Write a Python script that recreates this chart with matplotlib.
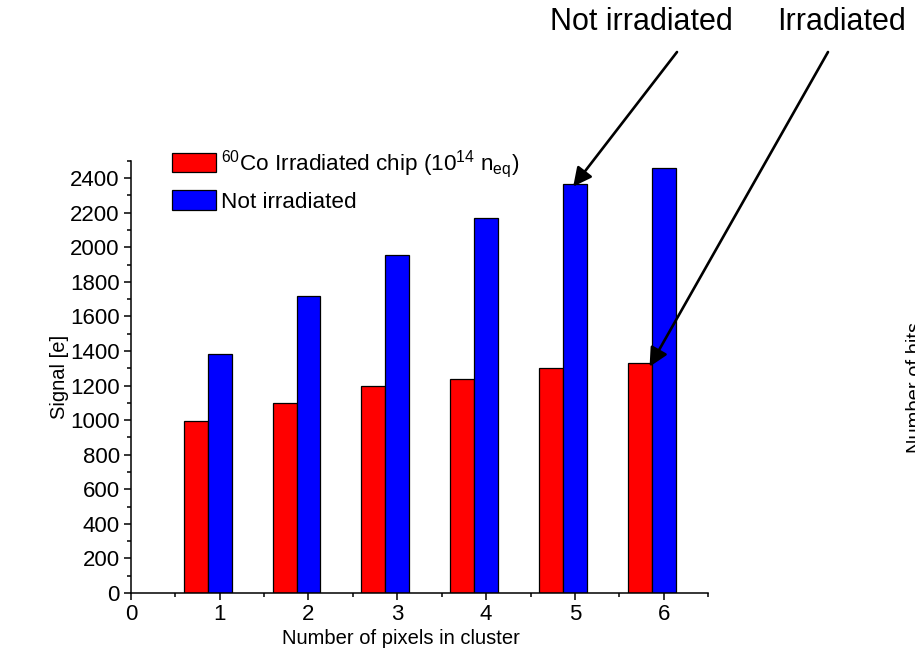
import matplotlib
matplotlib.use("Agg")
import matplotlib.pyplot as plt
from matplotlib.ticker import MultipleLocator
import numpy as np

# data
cluster_size = [1, 2, 3, 4, 5, 6]
signal_irradiated = [995, 1100, 1195, 1240, 1300, 1330]
signal_not_irradiated = [1385, 1720, 1955, 2170, 2365, 2460]

label_irr = r"$\mathregular{^{60}}$Co Irradiated chip (10$\mathregular{^{14}}$ n$\mathregular{_{eq}}$)"
label_not = "Not irradiated"

plt.rcParams["font.family"] = ["Liberation Sans", "DejaVu Sans"]
plt.rcParams["mathtext.fontset"] = "custom"
plt.rcParams["mathtext.rm"] = "Liberation Sans"

fig = plt.figure(figsize=(9.15, 6.7), dpi=100)
ax = fig.add_axes([0.143, 0.115, 0.631, 0.645])

x = np.array(cluster_size)
w = 0.27
ax.bar(x - w, signal_irradiated, width=w, align="center", color="#ff0000",
       edgecolor="black", linewidth=0.9, label=label_irr)
ax.bar(x, signal_not_irradiated, width=w, align="center", color="#0000ff",
       edgecolor="black", linewidth=0.9, label=label_not)

ax.set_xlim(0, 6.5)
ax.set_ylim(0, 2500)
ax.xaxis.set_major_locator(MultipleLocator(1))
ax.xaxis.set_minor_locator(MultipleLocator(0.5))
ax.yaxis.set_major_locator(MultipleLocator(200))
ax.yaxis.set_minor_locator(MultipleLocator(100))
ax.tick_params(which="major", direction="out", length=5, width=1.1,
               labelsize=16, pad=3)
ax.tick_params(which="minor", direction="out", length=3, width=1.1)

for side in ["top", "right"]:
    ax.spines[side].set_visible(False)
for side in ["left", "bottom"]:
    ax.spines[side].set_linewidth(1.1)

ax.set_xlabel("Number of pixels in cluster", fontsize=14.5)
ax.xaxis.set_label_coords(0.468, -0.083)
ax.set_ylabel("Signal [e]", fontsize=14.5, labelpad=1)

ax.legend(loc="upper left", bbox_to_anchor=(0.056, 1.05), frameon=False,
          fontsize=16.2, handlelength=1.95, handleheight=0.95,
          handletextpad=0.2, labelspacing=0.45, borderaxespad=0)

# arrows pointing at the last bars
arrow = dict(arrowstyle="-|>", color="black", lw=1.9, mutation_scale=28,
             shrinkA=0, shrinkB=0)
ax.annotate("", xy=(4.98, 2351), xycoords="data",
            xytext=(677 / 915, 1 - 52 / 670), textcoords="figure fraction",
            arrowprops=arrow)
ax.annotate("", xy=(5.84, 1309), xycoords="data",
            xytext=(828 / 915, 1 - 52 / 670), textcoords="figure fraction",
            arrowprops=arrow)
fig.text(641 / 915, 1 - 22 / 670, "Not irradiated", ha="center", va="center",
         fontsize=22)
fig.text(842 / 915, 1 - 22 / 670, "Irradiated", ha="center", va="center",
         fontsize=22)

# cut-off label of the neighbouring panel
fig.text(906 / 915, 1 - 387 / 670, "Number of hits", rotation=90,
         ha="left", va="center", fontsize=14.5)

fig.savefig("out.png", dpi=100)
